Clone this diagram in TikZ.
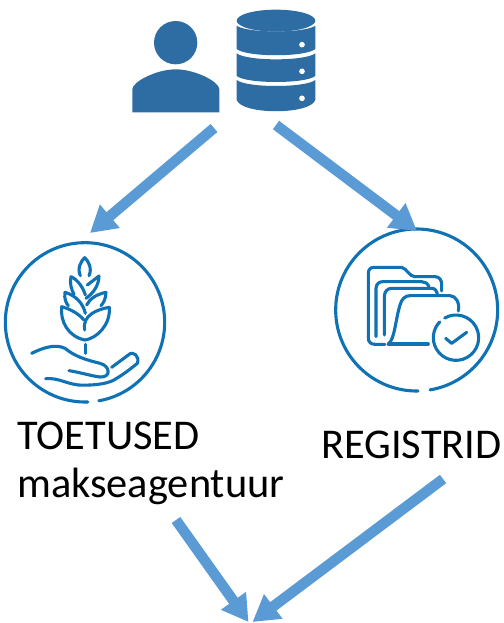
\documentclass[tikz,border=0pt]{standalone}
\usepackage{fontspec}
\setmainfont{Carlito}
\usetikzlibrary{arrows.meta}
\definecolor{arrowblue}{HTML}{5B9BD5}
\definecolor{iconblue}{HTML}{2E6DA4}
\definecolor{ringblue}{HTML}{0F72B5}
\tikzset{
  flowarrow/.style={draw=arrowblue,line width=10.5pt,-{Triangle[width=29pt,length=26pt]}},
  lbl/.style={anchor=base west,inner sep=0pt,font=\fontsize{42.4}{48}\selectfont,text=black},
  thinline/.style={draw=ringblue,line width=3.1pt,line cap=round,line join=round},
  zoomed/.style={x=0.33333pt,y=-0.33333pt},
}
\begin{document}
\begin{tikzpicture}[x=1pt,y=-1pt]
\useasboundingbox (0,0) rectangle (503,623);
% person and database
\begin{scope}[shift={(120,0)},zoomed]
  \fill[iconblue] (167,128) circle[radius=65];
  \fill[iconblue] (37,337) -- (37,268) .. controls (37,245) and (110,208) .. (167,208)
     .. controls (225,208) and (298,245) .. (298,268) -- (298,337) -- cycle;
  \fill[iconblue] (468,62) ellipse[x radius=118,y radius=33];
  \fill[iconblue] (350,77) .. controls (380,100) and (556,100) .. (586,77) -- (586,147)
     .. controls (556,172) and (380,172) .. (350,147) -- cycle;
  \fill[iconblue] (350,160) .. controls (380,184) and (556,184) .. (586,160) -- (586,228)
     .. controls (556,252) and (380,252) .. (350,228) -- cycle;
  \fill[iconblue] (350,240) .. controls (380,264) and (556,264) .. (586,240) -- (586,300)
     .. controls (570,345) and (366,345) .. (350,300) -- cycle;
  \foreach \yy in {134,214,295} \fill[white] (546,\yy) circle[radius=8.5];
\end{scope}
% left icon
\begin{scope}[shift={(0,235)},zoomed]
  \draw[thinline] (255,262) ++(88:239) arc[start angle=88,end angle=440,radius=239];
  \draw[thinline] (241,122) .. controls (230,100) and (245,75) .. (254,68)
     .. controls (263,75) and (278,100) .. (267,122);
  \draw[thinline] (256,180) .. controls (250,160) and (235,135) .. (213,125)
     .. controls (208,145) and (215,165) .. (222,178);
  \draw[thinline] (262,150) -- (297,123) .. controls (297,150) and (280,175) .. (258,190);
  \draw[thinline] (256,235) .. controls (250,205) and (225,180) .. (195,172)
     .. controls (192,190) and (198,205) .. (205,212);
  \draw[thinline] (260,210) .. controls (270,190) and (290,178) .. (318,172)
     .. controls (318,190) and (310,205) .. (303,212);
  \draw[thinline] (252,255) .. controls (235,235) and (210,222) .. (185,215)
     .. controls (180,260) and (205,305) .. (255,315)
     .. controls (290,310) and (332,270) .. (328,217)
     .. controls (295,222) and (245,240) .. (254,285);
  \draw[thinline] (257,328) -- (257,355);
  \draw[thinline] (95,355) .. controls (125,340) and (165,325) .. (195,340)
     .. controls (225,365) and (260,375) .. (300,385)
     .. controls (330,392) and (335,428) .. (300,426)
     .. controls (270,422) and (240,412) .. (207,407);
  \draw[thinline] (137,431) .. controls (175,428) and (195,445) .. (235,450)
     .. controls (290,452) and (330,445) .. (350,430)
     .. controls (375,415) and (400,395) .. (412,385)
     .. controls (420,365) and (400,345) .. (385,360) -- (335,397);
\end{scope}
% right icon
\begin{scope}[shift={(330,225)},zoomed]
  \draw[thinline] (260,255) ++(89:243) arc[start angle=89,end angle=440.5,radius=243];
  \draw[thinline] (165,358) -- (135,358) .. controls (122,358) and (115,350) .. (115,340)
     -- (115,145) .. controls (115,133) and (122,127) .. (132,127) -- (215,127)
     .. controls (230,130) and (238,155) .. (255,155) -- (315,155)
     .. controls (328,155) and (335,165) .. (335,178) -- (335,198);
  \draw[thinline] (138,335) -- (138,190) .. controls (138,177) and (148,170) .. (158,170)
     -- (275,170) .. controls (285,170) and (293,175) .. (297,185);
  \draw[thinline] (163,330) -- (163,215) .. controls (163,200) and (172,190) .. (185,190)
     -- (305,190) .. controls (315,190) and (320,197) .. (322,208);
  \draw[thinline] (175,357) .. controls (195,340) and (195,290) .. (210,240)
     .. controls (215,222) and (225,212) .. (240,212) -- (360,212)
     .. controls (378,212) and (390,235) .. (385,258);
  \draw[thinline] (175,357) -- (295,357);
  \draw[thinline] (378,338) ++(240:68) arc[start angle=240,end angle=584,radius=68];
  \draw[thinline] (347,340) -- (365,355) -- (410,322);
\end{scope}
% labels
\node[lbl] (toetused) at (17,449) {TOETUSED};
\node[lbl] (makse) at (17,497.5) {makseagentuur};
\node[lbl] (registrid) at (321,458) {REGISTRID};
% connector ends
\coordinate (a1s) at (214,128);
\coordinate (a1e) at (90,233);
\coordinate (a2s) at (276,125);
\coordinate (a2e) at (417,231);
\coordinate (a3s) at (176,520);
\coordinate (a3e) at (248.5,622);
\coordinate (a4s) at (443,479);
\coordinate (a4e) at (252.5,622);
\draw[flowarrow] (a1s) -- (a1e);
\draw[flowarrow] (a2s) -- (a2e);
\draw[flowarrow] (a3s) -- (a3e);
\draw[flowarrow] (a4s) -- (a4e);
\end{tikzpicture}
\end{document}
